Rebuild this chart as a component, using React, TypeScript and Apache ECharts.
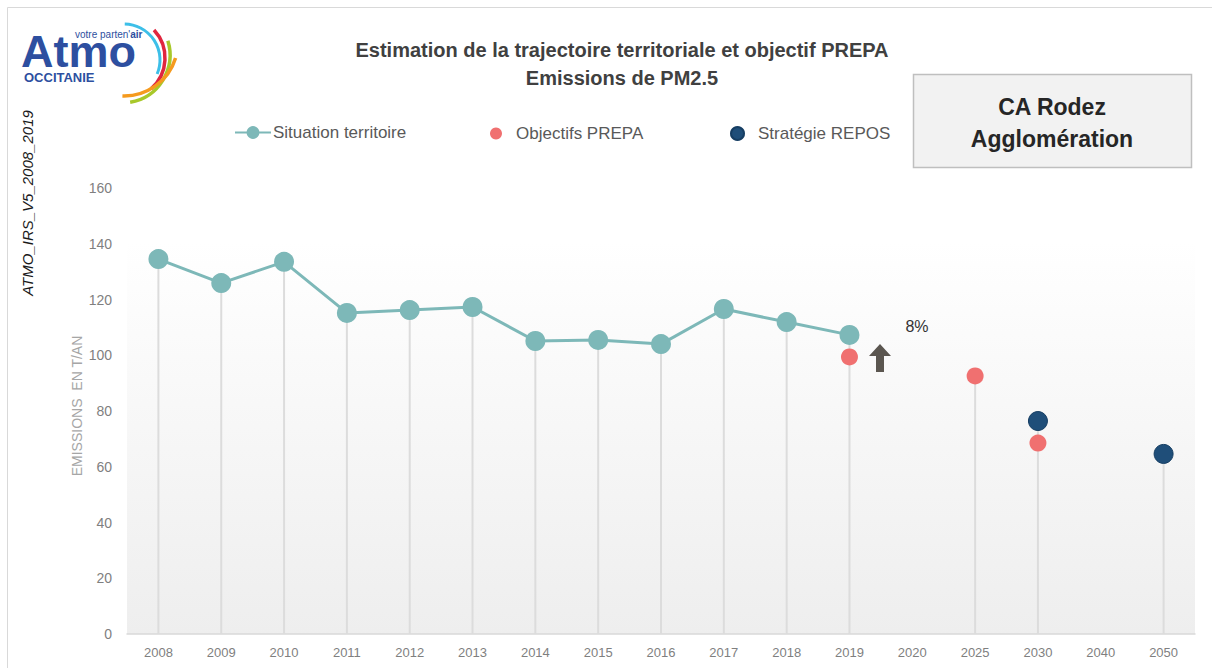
import React, { useEffect, useRef } from "react";
import * as echarts from "echarts";

const categories = ["2008","2009","2010","2011","2012","2013","2014","2015","2016","2017","2018","2019","2020","2025","2030","2040","2050"];
const situation: (number | null)[] = [134.5,125.9,133.5,115.2,116.2,117.3,105.1,105.5,104.0,116.6,111.9,107.3,null,null,null,null,null];
const prepa: (number | string)[] = ["-","-","-","-","-","-","-","-","-","-","-",99.4,"-",92.6,68.5,"-","-"];
const repos: (number | string)[] = ["-","-","-","-","-","-","-","-","-","-","-","-","-","-",76.4,"-",64.6];
const yTicks = { min: 0, max: 160, interval: 20 };
const evolutionLabel = "8%";

const NARROW = '"Liberation Sans Narrow", "Liberation Sans", Arial, sans-serif';
const SANS = '"Liberation Sans", Arial, sans-serif';

export default function App() {
  const ref = useRef<HTMLDivElement>(null);
  useEffect(() => {
    document.body.style.margin = "0";
    if (!ref.current) return;
    const chart = echarts.init(ref.current, null, { renderer: "svg" });
    const num = (v: any) => (typeof v === "number" ? v : -Infinity);
    const drop = categories.map((_, i) => {
      const m = Math.max(num(situation[i]), num(prepa[i]), num(repos[i]));
      return m === -Infinity ? "-" : m;
    });
    const legendText = { color: "#595959", fontSize: 17, fontFamily: NARROW };
    chart.setOption({
      animation: false,
      backgroundColor: "#ffffff",
      grid: {
        left: 127, right: 17, top: 188, bottom: 34, show: true, borderWidth: 0,
        backgroundColor: new echarts.graphic.LinearGradient(0, 0, 0, 1, [
          { offset: 0, color: "#ffffff" },
          { offset: 0.12, color: "#ffffff" },
          { offset: 1, color: "#eeeeee" },
        ]),
      },
      title: {
        text: "Estimation de la trajectoire territoriale et objectif PREPA\nEmissions de PM2.5",
        left: 617, top: 31, textAlign: "center",
        textStyle: { fontFamily: NARROW, fontWeight: "bold", fontSize: 20, color: "#404040", lineHeight: 28 },
      },
      legend: [
        { data: ["Situation territoire"], left: 229, top: 119, itemWidth: 36, itemHeight: 16, itemGap: 0, textStyle: { ...legendText, padding: [0, 0, 0, -3] } },
        { data: [{ name: "Objectifs PREPA", icon: "circle" }], left: 485, top: 120, itemWidth: 12, itemHeight: 12, textStyle: { ...legendText, padding: [0, 0, 0, 9] } },
        { data: [{ name: "Stratégie REPOS", icon: "circle" }], left: 725, top: 120, itemWidth: 13, itemHeight: 13, textStyle: { ...legendText, padding: [0, 0, 0, 9] } },
      ],
      xAxis: {
        type: "category",
        data: categories,
        boundaryGap: true,
        axisLine: { lineStyle: { color: "#d9d9d9", width: 1.5 } },
        axisTick: { show: false },
        axisLabel: { color: "#7f7f7f", fontSize: 13, fontFamily: NARROW, margin: 12 },
      },
      yAxis: {
        type: "value",
        min: yTicks.min, max: yTicks.max, interval: yTicks.interval,
        name: "EMISSIONS  EN T/AN",
        nameLocation: "middle",
        nameGap: 43,
        nameMoveOverlap: false,
        nameTextStyle: { color: "#a6a6a6", fontSize: 14, fontFamily: NARROW, padding: [0, 0, 0, 10] },
        axisLine: { show: false },
        axisTick: { show: false },
        splitLine: { show: false },
        axisLabel: { color: "#7f7f7f", fontSize: 14, fontFamily: NARROW, margin: 15 },
      },
      series: [
        {
          name: "drop", type: "bar", data: drop, barWidth: 2, silent: true, z: 1,
          itemStyle: { color: "#dcdcdc" },
        },
        {
          name: "Situation territoire", type: "line", data: situation, symbol: "circle", symbolSize: 20,
          itemStyle: { color: "#7db8b8", opacity: 1 }, lineStyle: { color: "#7db8b8", width: 3 }, z: 3,
        },
        {
          name: "Objectifs PREPA", type: "scatter", data: prepa, symbol: "circle", symbolSize: 17,
          itemStyle: { color: "#f07070", opacity: 1 }, z: 4,
        },
        {
          name: "Stratégie REPOS", type: "scatter", data: repos, symbol: "circle", symbolSize: 19,
          itemStyle: { color: "#1f4e79", borderColor: "#163e63", borderWidth: 1, opacity: 1 }, z: 5,
        },
      ],
      graphic: [
        { type: "rect", shape: { x: 7.5, y: 7.5, width: 1220, height: 680 }, style: { fill: "none", stroke: "#d9d9d9", lineWidth: 1 }, silent: true },
        // logo
        { type: "text", x: 21, y: 51, style: { text: "Atmo", fontFamily: SANS, fontWeight: "bold", fontSize: 45, lineHeight: 20, fill: "#2d4fa0", textVerticalAlign: "middle" } },
        {
          type: "text", x: 75, y: 34,
          style: {
            text: "{a|votre parten'}{b|air}", textVerticalAlign: "middle",
            rich: {
              a: { fontFamily: SANS, fontSize: 10, fill: "#2d4fa0", color: "#2d4fa0" },
              b: { fontFamily: SANS, fontSize: 10, fontWeight: "bold", fill: "#2d4fa0", color: "#2d4fa0" },
            },
          },
        },
        { type: "text", x: 24, y: 77, style: { text: "OCCITANIE", fontFamily: SANS, fontWeight: "bold", fontSize: 13, fill: "#2d4fa0", textVerticalAlign: "middle" } },
        { type: "arc", shape: { cx: 124, cy: 60, r: 36, startAngle: -1.55, endAngle: 0.4 }, style: { stroke: "#3dbfe8", lineWidth: 3, fill: "none" } },
        { type: "arc", shape: { cx: 124, cy: 58, r: 41, startAngle: -0.75, endAngle: 0.85 }, style: { stroke: "#e0263f", lineWidth: 3.5, fill: "none" } },
        { type: "arc", shape: { cx: 122, cy: 55, r: 48, startAngle: -0.3, endAngle: 1.4 }, style: { stroke: "#a8c82a", lineWidth: 3.5, fill: "none" } },
        { type: "arc", shape: { cx: 124, cy: 42, r: 54, startAngle: 0.3, endAngle: 1.6 }, style: { stroke: "#f59a1e", lineWidth: 3.5, fill: "none" } },
        // vertical file tag
        { type: "text", x: 27, y: 203, rotation: Math.PI / 2, style: { text: "ATMO_IRS_V5_2008_2019", fontFamily: NARROW, fontStyle: "italic", fontSize: 15, fill: "#1a1a1a", textAlign: "center", textVerticalAlign: "middle" } },
        // territory box
        { type: "rect", shape: { x: 913.5, y: 74.5, width: 278, height: 93 }, style: { fill: "#f2f2f2", stroke: "#bfbfbf", lineWidth: 1.5 } },
        { type: "text", x: 1052, y: 107, style: { text: "CA Rodez", fontFamily: SANS, fontWeight: "bold", fontSize: 23, fill: "#262626", textAlign: "center", textVerticalAlign: "middle" } },
        { type: "text", x: 1052, y: 139, style: { text: "Agglomération", fontFamily: SANS, fontWeight: "bold", fontSize: 23, fill: "#262626", textAlign: "center", textVerticalAlign: "middle" } },
        // arrow + percentage
        { type: "polygon", shape: { points: [[880, 344], [891, 356], [884, 356], [884, 372], [876, 372], [876, 356], [869, 356]] }, style: { fill: "#5b5650" } },
        { type: "text", x: 917, y: 326, style: { text: evolutionLabel, fontFamily: NARROW, fontSize: 16, fill: "#333333", textAlign: "center", textVerticalAlign: "middle" } },
      ],
    });
    return () => chart.dispose();
  }, []);
  return <div ref={ref} style={{ width: 1212, height: 668 }} />;
}
